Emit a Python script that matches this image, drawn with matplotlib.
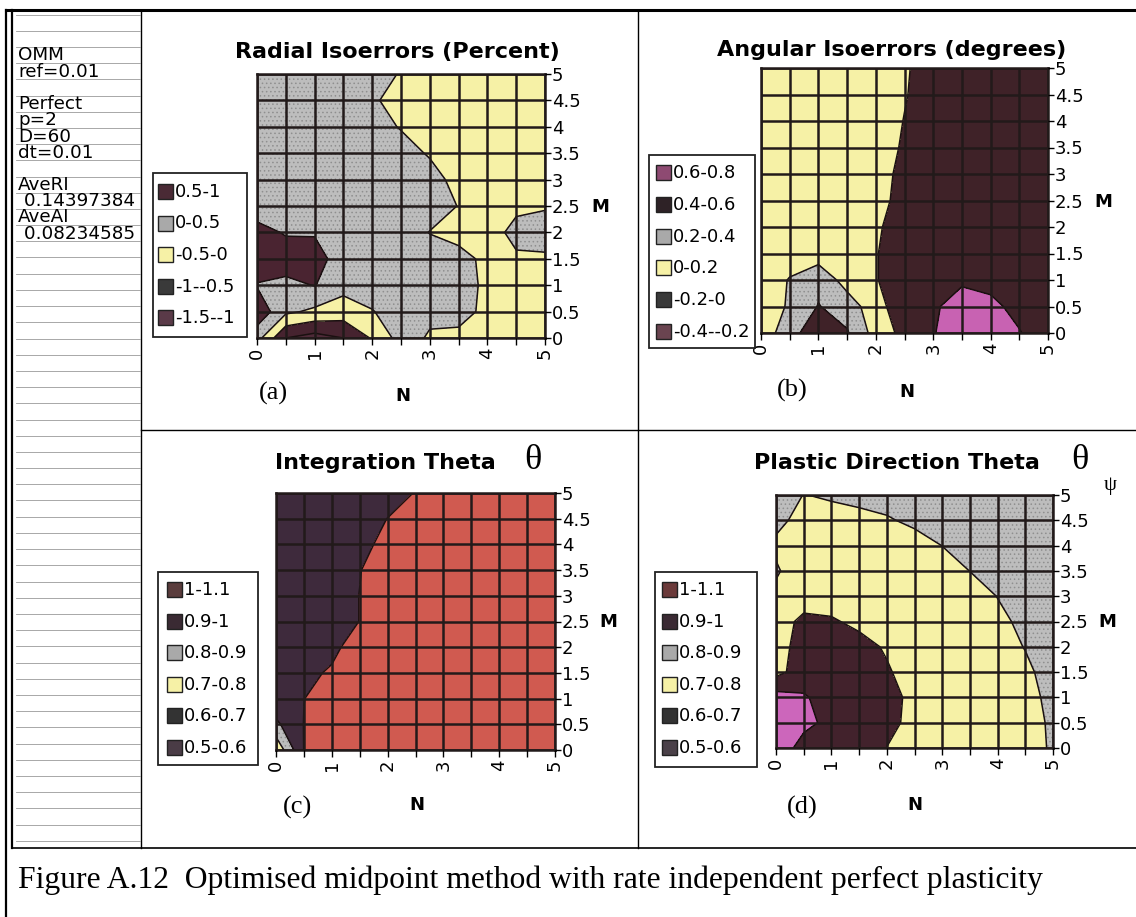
import matplotlib
matplotlib.use("Agg")
import matplotlib.pyplot as plt
from matplotlib.patches import Rectangle
from matplotlib.lines import Line2D

# grid of the runs: N across, M up (0 .. 5 by 0.5)
n_vals = [0, 0.5, 1, 1.5, 2, 2.5, 3, 3.5, 4, 4.5, 5]
m_vals = [0, 0.5, 1, 1.5, 2, 2.5, 3, 3.5, 4, 4.5, 5]

# (a) radial isoerrors in percent, one row per M value (M=0 first)
radial_err = [
    [0.20, -1.00, -1.20, -1.00, -0.45, 0.20, -0.05, -0.07, -0.20, -0.20, -0.20],
    [0.85, 0.10, -0.10, -0.24, -0.02, 0.20, 0.10, 0.10, -0.067, -0.20, -0.20],
    [0.47, 0.35, 0.52, 0.16, 0.20, 0.20, 0.20, 0.20, -0.094, -0.20, -0.20],
    [0.80, 0.80, 0.75, 0.20, 0.20, 0.20, 0.20, 0.20, -0.14, -0.05, -0.05],
    [0.70, 0.45, 0.45, 0.25, 0.20, 0.20, -0.013, -0.20, -0.15, 0.10, 0.15],
    [0.20, 0.20, 0.20, 0.20, 0.20, 0.20, 0.20, -0.013, -0.20, -0.067, -0.03],
    [0.20, 0.20, 0.20, 0.20, 0.20, 0.20, 0.20, -0.17, -0.20, -0.20, -0.20],
    [0.20, 0.20, 0.20, 0.20, 0.20, 0.20, -0.05, -0.20, -0.20, -0.20, -0.20],
    [0.20, 0.20, 0.20, 0.20, 0.20, -0.033, -0.20, -0.20, -0.20, -0.20, -0.20],
    [0.20, 0.20, 0.20, 0.20, 0.05, -0.14, -0.20, -0.20, -0.20, -0.20, -0.20],
    [0.20, 0.20, 0.20, 0.20, 0.20, -0.033, -0.20, -0.20, -0.20, -0.20, -0.20],
]

# (b) angular isoerrors in degrees
angular_err = [
    [0.10, 0.30, 0.58, 0.42, 0.12, -0.06, -0.19, -0.30, -0.30, -0.21, -0.10],
    [0.10, 0.22, 0.41, 0.30, 0.09, -0.15, -0.18, -0.26, -0.24, -0.15, -0.10],
    [0.10, 0.21, 0.34, 0.12, 0.01, -0.10, -0.12, -0.18, -0.15, -0.10, -0.10],
    [0.10, 0.12, 0.10, 0.10, 0.01, -0.10, -0.10, -0.10, -0.10, -0.10, -0.10],
    [0.10, 0.10, 0.10, 0.10, 0.03, -0.10, -0.10, -0.10, -0.10, -0.10, -0.10],
    [0.10, 0.10, 0.10, 0.10, 0.10, -0.10, -0.10, -0.10, -0.10, -0.10, -0.10],
    [0.10, 0.10, 0.10, 0.10, 0.10, -0.067, -0.10, -0.10, -0.10, -0.10, -0.10],
    [0.10, 0.10, 0.10, 0.10, 0.10, -0.025, -0.10, -0.10, -0.10, -0.10, -0.10],
    [0.10, 0.10, 0.10, 0.10, 0.10, -0.006, -0.10, -0.10, -0.10, -0.10, -0.10],
    [0.10, 0.10, 0.10, 0.10, 0.10, 0.012, -0.088, -0.10, -0.10, -0.10, -0.10],
    [0.10, 0.10, 0.10, 0.10, 0.10, 0.02, -0.08, -0.10, -0.10, -0.10, -0.10],
]

# (c) integration theta
integ_theta = [
    [0.72, 1.002, 1.03, 1.03, 1.03, 1.03, 1.03, 1.03, 1.03, 1.03, 1.03],
    [0.88, 1.002, 1.03, 1.03, 1.03, 1.03, 1.03, 1.03, 1.03, 1.03, 1.03],
    [0.97, 0.999, 1.03, 1.03, 1.03, 1.03, 1.03, 1.03, 1.03, 1.03, 1.03],
    [0.97, 0.97, 1.015, 1.03, 1.03, 1.03, 1.03, 1.03, 1.03, 1.03, 1.03],
    [0.97, 0.97, 0.97, 1.06, 1.03, 1.03, 1.03, 1.03, 1.03, 1.03, 1.03],
    [0.97, 0.97, 0.97, 1.001, 1.03, 1.03, 1.03, 1.03, 1.03, 1.03, 1.03],
    [0.97, 0.97, 0.97, 1.001, 1.03, 1.03, 1.03, 1.03, 1.03, 1.03, 1.03],
    [0.97, 0.97, 0.97, 0.998, 1.03, 1.03, 1.03, 1.03, 1.03, 1.03, 1.03],
    [0.97, 0.97, 0.97, 0.97, 1.03, 1.03, 1.03, 1.03, 1.03, 1.03, 1.03],
    [0.97, 0.97, 0.97, 0.97, 1.001, 1.03, 1.03, 1.03, 1.03, 1.03, 1.03],
    [0.97, 0.97, 0.97, 0.97, 0.97, 1.003, 1.03, 1.03, 1.03, 1.03, 1.03],
]

# (d) plastic direction theta
plastic_theta = [
    [0.55, 0.63, 0.64, 0.65, 0.701, 0.74, 0.76, 0.77, 0.78, 0.79, 0.803],
    [0.55, 0.58, 0.62, 0.65, 0.68, 0.72, 0.75, 0.77, 0.78, 0.79, 0.804],
    [0.56, 0.59, 0.64, 0.66, 0.68, 0.715, 0.75, 0.77, 0.78, 0.79, 0.808],
    [0.73, 0.65, 0.65, 0.67, 0.69, 0.74, 0.75, 0.77, 0.78, 0.79, 0.82],
    [0.74, 0.66, 0.66, 0.67, 0.71, 0.74, 0.76, 0.77, 0.78, 0.802, 0.83],
    [0.74, 0.68, 0.69, 0.72, 0.74, 0.75, 0.76, 0.77, 0.79, 0.81, 0.84],
    [0.78, 0.74, 0.74, 0.75, 0.75, 0.76, 0.77, 0.78, 0.801, 0.82, 0.85],
    [0.81, 0.75, 0.75, 0.76, 0.76, 0.77, 0.78, 0.8005, 0.82, 0.84, 0.86],
    [0.785, 0.76, 0.76, 0.77, 0.77, 0.78, 0.8005, 0.82, 0.84, 0.85, 0.86],
    [0.82, 0.775, 0.77, 0.785, 0.795, 0.81, 0.83, 0.84, 0.85, 0.86, 0.87],
    [0.85, 0.798, 0.81, 0.815, 0.82, 0.83, 0.84, 0.85, 0.86, 0.87, 0.88],
]

radial_levels = [-1.5, -1.0, -0.5, 0.0, 0.5, 1.0]
angular_levels = [-0.4, -0.2, 0.0, 0.2, 0.4, 0.6, 0.8]
theta_levels = [0.5, 0.6, 0.7, 0.8, 0.9, 1.0, 1.1]

radial_keys = ["0.5-1", "0-0.5", "-0.5-0", "-1--0.5", "-1.5--1"]
angular_keys = ["0.6-0.8", "0.4-0.6", "0.2-0.4", "0-0.2", "-0.2-0", "-0.4--0.2"]
theta_keys = ["1-1.1", "0.9-1", "0.8-0.9", "0.7-0.8", "0.6-0.7", "0.5-0.6"]

sheet_text = ["OMM", "ref=0.01", "Perfect", "p=2", "D=60", "dt=0.01",
              "AveRI", " 0.14397384", "AveAI", " 0.08234585"]
sheet_rows = [2, 3, 5, 6, 7, 8, 10, 11, 12, 13]

YEL = "#f6f1a6"
GRY = "#bdbdbd"
DOTS = "...."

plt.rcParams["hatch.color"] = "#8f8f8f"
plt.rcParams["hatch.linewidth"] = 0.6

W, H = 1136, 917
fig = plt.figure(figsize=(W / 100, H / 100), dpi=100)
fig.patch.set_facecolor("white")


def fx(x):
    return x / W


def fy(y):
    return 1 - y / H


def hline(x0, x1, y, lw=1.0, color="black"):
    fig.add_artist(Line2D([fx(x0), fx(x1)], [fy(y), fy(y)], color=color, lw=lw,
                          transform=fig.transFigure))


def vline(x, y0, y1, lw=1.0, color="black"):
    fig.add_artist(Line2D([fx(x), fx(x)], [fy(y0), fy(y1)], color=color, lw=lw,
                          transform=fig.transFigure))


def contour_panel(box, z, levels, fills):
    x0, y0, x1, y1 = box
    ax = fig.add_axes([fx(x0), fy(y1), fx(x1) - fx(x0), fy(y0) - fy(y1)])
    hatches = [DOTS if c == GRY else None for c in fills]
    ax.contourf(n_vals, m_vals, z, levels=levels, colors=fills, hatches=hatches)
    ax.contour(n_vals, m_vals, z, levels=levels, colors="#1a1010",
               linewidths=1.1, linestyles="solid")
    ax.set_xlim(0, 5)
    ax.set_ylim(0, 5)
    ax.set_xticks(n_vals)
    ax.set_xticklabels([f"{v:g}" if v == int(v) else "" for v in n_vals])
    ax.set_yticks(m_vals)
    ax.set_yticklabels([f"{v:g}" for v in m_vals])
    ax.yaxis.tick_right()
    ax.tick_params(axis="y", length=4, width=1, pad=1, labelsize=13)
    ax.tick_params(axis="x", length=5, width=1, pad=2, labelsize=13, labelrotation=90)
    ax.set_axisbelow(False)
    ax.grid(True, color="#221a1a", lw=1.8)
    for s in ax.spines.values():
        s.set_color("#221a1a")
        s.set_linewidth(1.8)
    return ax


def key_box(box, entries, swatches, first_y, step, sx):
    x0, y0, x1, y1 = box
    fig.add_artist(Rectangle((fx(x0), fy(y1)), fx(x1) - fx(x0), fy(y0) - fy(y1),
                             transform=fig.transFigure, facecolor="white",
                             edgecolor="#222222", lw=1.3, zorder=2))
    for i, (lab, col) in enumerate(zip(entries, swatches)):
        yc = first_y + i * step
        fig.add_artist(Rectangle((fx(sx), fy(yc + 7)), fx(15), 15 / H,
                                 transform=fig.transFigure, facecolor=col,
                                 edgecolor="#222222", lw=1.0, zorder=3))
        fig.text(fx(sx + 17), fy(yc), lab, fontsize=13, va="center", ha="left", zorder=4)


# frame of the page and the panel dividers
hline(6, 1136, 10, lw=2.2)
vline(6, 10, 917, lw=1.6)
vline(12, 10, 848, lw=1.6)
vline(141, 10, 848, lw=1.0)
vline(638, 10, 848, lw=1.0)
hline(141, 1136, 430, lw=1.0)
hline(12, 1136, 848, lw=1.2)

# worksheet column on the left
for k in range(52):
    hline(16, 140, 14.5 + 16.2 * k, lw=0.6, color="#9a9a9a")
for k, t in zip(sheet_rows, sheet_text):
    fig.text(fx(18), fy(14.5 + 16.2 * k + 8.6), t, fontsize=13.2, va="center", ha="left")

# (a) radial isoerrors
contour_panel((257, 74, 545, 338), radial_err, radial_levels,
              ["#4e2a38", "#46232f", YEL, GRY, "#4a2431"])
fig.text(fx(397), fy(52), "Radial Isoerrors (Percent)", fontsize=16, fontweight="bold",
         ha="center", va="center")
key_box((153, 173, 247, 337), radial_keys,
        ["#4a2a35", "#a9a9a9", YEL, "#3a3a3a", "#5a3a48"], 192, 31.5, 158)
fig.text(fx(600), fy(207), "M", fontsize=13, fontweight="bold", ha="center", va="center")
fig.text(fx(403), fy(396), "N", fontsize=13, fontweight="bold", ha="center", va="center")
fig.text(fx(273), fy(393), "(a)", fontsize=19, family="Liberation Serif", ha="center", va="center")

# (b) angular isoerrors
contour_panel((761, 68, 1048, 333), angular_err, angular_levels,
              ["#c862b2", "#3f2228", YEL, GRY, "#3f2228", "#c862b2"])
fig.text(fx(892), fy(50), "Angular Isoerrors (degrees)", fontsize=16, fontweight="bold",
         ha="center", va="center")
key_box((649, 155, 755, 348), angular_keys,
        ["#8e4a72", "#2e2226", "#a9a9a9", YEL, "#3a3a3a", "#6a4450"], 173, 31.8, 656)
fig.text(fx(1103), fy(202), "M", fontsize=13, fontweight="bold", ha="center", va="center")
fig.text(fx(907), fy(392), "N", fontsize=13, fontweight="bold", ha="center", va="center")
fig.text(fx(792), fy(390), "(b)", fontsize=19, family="Liberation Serif", ha="center", va="center")

# (c) integration theta
contour_panel((276, 493, 555, 750), integ_theta, theta_levels,
              ["#4a3a48", "#3a3a3a", YEL, GRY, "#3e2a3c", "#d05a50"])
fig.text(fx(385), fy(463), "Integration Theta", fontsize=16, fontweight="bold",
         ha="center", va="center")
fig.text(fx(533), fy(461), "\u03b8", fontsize=26, family="Liberation Serif", ha="center", va="center")
key_box((158, 572, 258, 765), theta_keys,
        ["#5a3c3c", "#3a2a33", "#a9a9a9", YEL, "#333333", "#4a3c46"], 590, 31.6, 167)
fig.text(fx(608), fy(622), "M", fontsize=13, fontweight="bold", ha="center", va="center")
fig.text(fx(417), fy(805), "N", fontsize=13, fontweight="bold", ha="center", va="center")
fig.text(fx(297), fy(807), "(c)", fontsize=19, family="Liberation Serif", ha="center", va="center")

# (d) plastic direction theta
contour_panel((776, 495, 1053, 748), plastic_theta, theta_levels,
              ["#cc66bb", "#42222c", YEL, GRY, "#3e2a3c", "#6a3030"])
fig.text(fx(897), fy(463), "Plastic Direction Theta", fontsize=16, fontweight="bold",
         ha="center", va="center")
fig.text(fx(1080), fy(461), "\u03b8", fontsize=26, family="Liberation Serif", ha="center", va="center")
fig.text(fx(1110), fy(486), "\u03c8", fontsize=15, family="Liberation Serif", ha="center", va="center")
key_box((655, 572, 757, 767), theta_keys,
        ["#6b3a3a", "#3a2a33", "#a9a9a9", YEL, "#333333", "#4a4048"], 590, 31.6, 662)
fig.text(fx(1107), fy(622), "M", fontsize=13, fontweight="bold", ha="center", va="center")
fig.text(fx(915), fy(805), "N", fontsize=13, fontweight="bold", ha="center", va="center")
fig.text(fx(802), fy(807), "(d)", fontsize=19, family="Liberation Serif", ha="center", va="center")

fig.text(fx(18), fy(880), "Figure A.12  Optimised midpoint method with rate independent perfect plasticity",
         fontsize=22.8, family="Liberation Serif", ha="left", va="center")

fig.savefig("out.png", dpi=100)
